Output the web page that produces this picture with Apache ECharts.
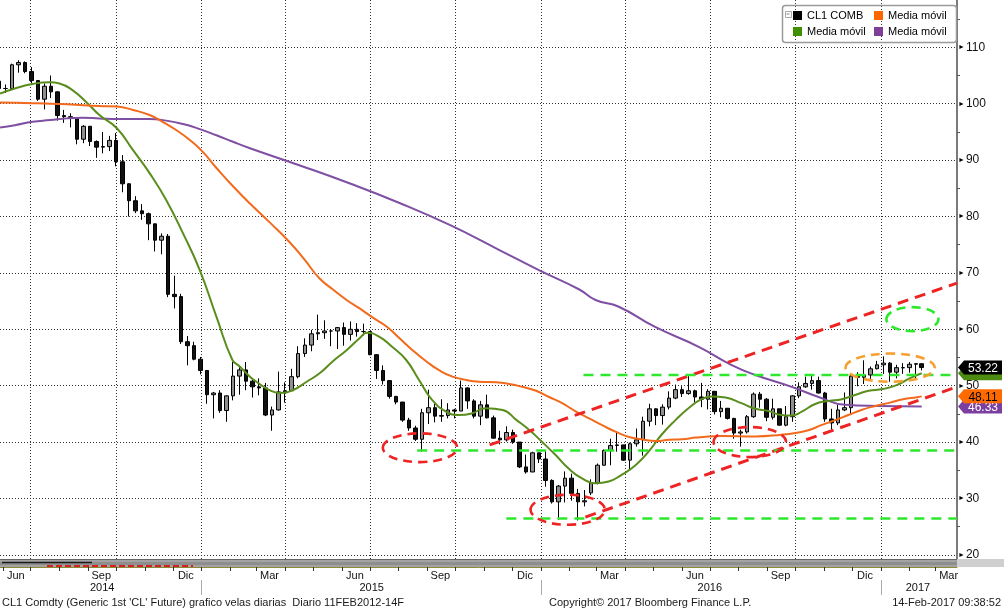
<!DOCTYPE html>
<html><head><meta charset="utf-8">
<script src="https://cdn.jsdelivr.net/npm/echarts@6/dist/echarts.min.js"></script>
<style>html,body{margin:0;padding:0;background:#fff}#c{width:1004px;height:610px}</style>
</head><body><div id="c"></div><script>
// ---------- DATA ----------
const weeks = [
'2014-05-28','2014-06-04','2014-06-11','2014-06-18','2014-06-25','2014-07-02','2014-07-09','2014-07-16','2014-07-23','2014-07-30','2014-08-06','2014-08-13','2014-08-20','2014-08-27','2014-09-03','2014-09-10','2014-09-17','2014-09-24','2014-10-01','2014-10-08','2014-10-15','2014-10-22','2014-10-29','2014-11-05','2014-11-12','2014-11-19','2014-11-26','2014-12-03','2014-12-10','2014-12-17','2014-12-24','2014-12-31',
'2015-01-07','2015-01-14','2015-01-21','2015-01-28','2015-02-04','2015-02-11','2015-02-18','2015-02-25','2015-03-04','2015-03-11','2015-03-18','2015-03-25','2015-04-01','2015-04-08','2015-04-15','2015-04-22','2015-04-29','2015-05-06','2015-05-13','2015-05-20','2015-05-27','2015-06-03','2015-06-10','2015-06-17','2015-06-24','2015-07-01','2015-07-08','2015-07-15','2015-07-22','2015-07-29','2015-08-05','2015-08-12','2015-08-19','2015-08-26','2015-09-02','2015-09-09','2015-09-16','2015-09-23','2015-09-30','2015-10-07','2015-10-14','2015-10-21','2015-10-28','2015-11-04','2015-11-11','2015-11-18','2015-11-25','2015-12-02','2015-12-09','2015-12-16','2015-12-23','2015-12-30',
'2016-01-06','2016-01-13','2016-01-20','2016-01-27','2016-02-03','2016-02-10','2016-02-17','2016-02-24','2016-03-02','2016-03-09','2016-03-16','2016-03-23','2016-03-30','2016-04-06','2016-04-13','2016-04-20','2016-04-27','2016-05-04','2016-05-11','2016-05-18','2016-05-25','2016-06-01','2016-06-08','2016-06-15','2016-06-22','2016-06-29','2016-07-06','2016-07-13','2016-07-20','2016-07-27','2016-08-03','2016-08-10','2016-08-17','2016-08-24','2016-08-31','2016-09-07','2016-09-14','2016-09-21','2016-09-28','2016-10-05','2016-10-12','2016-10-19','2016-10-26','2016-11-02','2016-11-09','2016-11-16','2016-11-23','2016-11-30','2016-12-07','2016-12-14','2016-12-21','2016-12-28',
'2017-01-04','2017-01-11','2017-01-18','2017-01-25','2017-02-01','2017-02-08','2017-02-14'];
const opens = [
104.0,102.7,102.7,106.9,107.3,105.7,104.1,100.8,103.1,102.1,97.9,97.7,97.4,93.7,96.0,93.3,92.3,92.4,93.5,89.7,85.8,82.8,81.0,80.5,78.7,75.8,76.5,66.2,65.8,57.8,57.1,54.7,
52.7,48.4,48.7,45.6,48.2,51.7,52.8,50.8,49.8,49.6,44.8,45.7,48.9,49.1,51.6,55.7,57.2,59.2,59.4,59.7,59.7,60.3,59.1,60.0,59.6,59.6,55.5,52.7,50.9,48.1,47.1,43.9,42.5,40.5,45.2,46.1,44.6,44.7,45.7,45.5,49.6,47.3,44.6,46.6,44.3,40.7,40.4,41.7,40.0,35.6,34.7,38.1,
37.0,33.2,29.4,32.2,33.6,30.9,29.4,31.0,32.8,35.9,38.5,39.4,39.5,36.8,39.7,40.4,43.7,45.9,44.7,46.2,47.8,49.3,48.6,49.1,48.0,47.6,49.0,45.4,46.0,44.2,41.6,41.8,44.5,48.5,47.6,44.4,45.9,43.0,44.5,48.2,49.8,50.4,50.9,48.7,44.1,43.4,45.7,46.1,51.7,51.5,51.9,53.0,
53.7,54.0,52.4,53.2,53.2,53.8,53.9];
const closes = [
102.7,102.7,106.9,107.3,105.7,104.1,100.8,103.1,102.1,97.9,97.7,97.4,93.7,96.0,93.3,92.3,92.4,93.5,89.7,85.8,82.8,81.0,80.5,78.7,75.8,76.5,66.2,65.8,57.8,57.1,54.7,52.7,
48.4,48.7,45.6,48.2,51.7,52.8,50.8,49.8,49.6,44.8,45.7,48.9,49.1,51.6,55.7,57.2,59.2,59.4,59.7,59.7,60.3,59.1,60.0,59.6,59.6,55.5,52.7,50.9,48.1,47.1,43.9,42.5,40.5,45.2,46.1,44.6,44.7,45.7,45.5,49.6,47.3,44.6,46.6,44.3,40.7,40.4,41.7,40.0,35.6,34.7,38.1,37.0,
33.2,29.4,32.2,33.6,30.9,29.4,29.6,32.8,35.9,38.5,39.4,39.5,36.8,39.7,40.4,43.7,45.9,44.7,46.2,47.8,49.3,48.6,49.1,48.0,47.6,49.0,45.4,46.0,44.2,41.6,41.8,44.5,48.5,47.6,44.4,45.9,43.0,44.5,48.2,49.8,50.4,50.9,48.7,44.1,43.4,45.7,46.1,51.7,51.5,51.9,53.0,53.7,
54.0,52.4,53.2,53.17,53.8,53.9,53.22];
const lows = [
102.5,101.9,102.6,105.5,105.4,103.6,100.5,99.0,101.0,97.0,96.6,95.8,92.8,93.0,92.5,90.4,91.2,91.6,88.9,84.3,80.0,80.6,79.4,75.8,73.8,73.3,65.7,63.7,57.4,53.6,54.5,52.0,
46.8,44.2,45.2,43.6,47.4,48.4,49.2,47.9,48.3,44.6,42.0,45.6,47.0,49.1,51.3,55.1,56.1,58.1,58.3,57.0,56.5,57.1,58.0,58.7,58.9,55.4,51.2,50.2,47.7,46.7,43.6,42.0,40.2,38.3,43.2,43.5,43.6,44.2,44.2,45.5,45.9,44.2,43.0,44.2,40.6,39.6,40.1,39.7,35.4,34.4,34.7,36.3,
32.1,29.1,26.2,29.3,29.6,26.1,28.6,30.6,32.5,35.8,35.9,38.3,36.7,35.2,39.2,37.6,42.8,43.0,43.1,45.8,47.6,48.0,48.4,47.0,46.2,45.8,44.9,44.4,44.0,40.6,39.2,41.5,44.3,46.1,43.7,44.0,42.9,42.8,43.6,47.8,49.6,49.3,48.6,43.6,42.2,43.0,45.5,44.8,49.9,50.3,51.2,52.9,
52.1,50.7,51.3,52.1,52.3,51.2,52.7];
const highs = [
104.4,103.4,107.1,107.7,107.5,106.5,104.2,103.6,105.0,102.2,98.9,98.3,97.6,96.2,96.0,93.5,95.0,94.3,94.8,90.9,85.9,83.6,82.2,80.7,78.3,77.0,76.9,69.5,66.3,58.8,57.8,55.1,
52.7,48.9,49.2,48.3,54.2,53.3,54.2,51.2,51.3,50.5,46.3,52.5,50.6,53.0,57.0,58.4,59.9,62.6,61.6,60.0,60.4,61.2,61.4,61.1,61.0,59.7,55.6,53.6,51.0,48.2,46.5,44.3,42.9,45.9,49.3,46.8,47.6,46.9,45.9,50.9,49.7,47.6,47.3,48.4,44.7,42.0,42.8,42.2,40.0,37.8,38.3,38.1,
38.4,33.4,32.4,34.8,34.4,31.7,31.5,33.4,36.2,38.7,40.6,41.9,39.5,39.9,42.4,44.5,46.8,46.0,46.7,49.0,50.2,49.9,51.7,49.3,50.5,49.4,49.0,47.3,46.0,44.3,42.2,44.8,48.8,48.9,47.8,47.7,45.9,46.4,48.3,50.6,51.6,51.9,51.6,48.9,45.9,46.6,48.8,51.9,52.4,54.5,53.4,54.4,
55.2,54.2,53.7,54.0,54.2,54.0,53.9];

// moving averages: [date, value]
const ma50 = [
['2014-05-29',101.8],['2014-06-14',102.7],['2014-07-03',103.5],['2014-07-22',103.8],['2014-08-01',103.6],['2014-08-15',102.4],['2014-08-31',100.1],['2014-09-13',98.0],['2014-10-02',95.6],['2014-10-19',91.8],['2014-11-06',87.7],['2014-11-24',82.9],['2014-12-12',77.0],['2014-12-30',70.5],
['2015-01-17',62.2],['2015-02-03',54.6],['2015-02-11',53.4],['2015-02-22',51.6],['2015-03-01',50.7],['2015-03-15',49.2],['2015-03-26',48.7],['2015-04-09',49.2],['2015-04-24',50.7],['2015-05-08',52.2],['2015-05-22',54.3],['2015-06-06',56.3],['2015-06-20',58.4],['2015-06-28',59.4],['2015-07-11',58.7],['2015-07-25',56.9],['2015-08-09',54.6],['2015-08-23',51.0],['2015-09-06',47.5],['2015-09-21',45.4],['2015-10-05',44.8],['2015-10-19',45.1],['2015-11-03',46.0],['2015-11-21',45.7],['2015-12-06',43.9],['2015-12-20',42.1],
['2016-01-02',40.1],['2016-01-17',37.7],['2016-01-31',35.3],['2016-02-14',33.6],['2016-02-29',32.7],['2016-03-14',33.0],['2016-03-28',34.2],['2016-04-12',35.9],['2016-04-26',38.3],['2016-05-10',41.3],['2016-05-25',43.9],['2016-06-08',46.0],['2016-06-22',47.6],['2016-07-03',48.1],['2016-07-18',47.9],['2016-08-04',46.9],['2016-08-19',45.9],['2016-09-02',45.5],['2016-09-16',44.8],['2016-09-27',44.7],['2016-10-08',45.4],['2016-10-23',46.8],['2016-11-06',47.3],['2016-11-20',47.6],['2016-12-05',48.4],['2016-12-19',49.1],
['2017-01-03',49.4],['2017-01-18',50.1],['2017-02-01',51.3],['2017-02-14',52.2]];
const ma100 = [
['2014-05-29',100.2],['2014-07-03',100.1],['2014-08-09',99.9],['2014-09-13',99.6],['2014-10-02',99.5],['2014-10-19',98.9],['2014-11-06',98.0],['2014-11-20',96.8],['2014-12-05',95.3],['2014-12-19',93.6],
['2015-01-02',91.5],['2015-01-17',88.6],['2015-02-03',85.5],['2015-02-22',82.3],['2015-03-15',79.0],['2015-04-06',75.4],['2015-04-22',72.3],['2015-05-08',69.0],['2015-05-22',67.1],['2015-06-06',65.2],['2015-06-20',63.7],['2015-07-04',62.1],['2015-07-19',60.5],['2015-08-02',58.4],['2015-08-16',56.3],['2015-08-31',54.3],['2015-09-14',52.7],['2015-09-28',51.6],['2015-10-13',51.0],['2015-10-27',50.7],['2015-11-14',50.6],['2015-11-28',50.3],['2015-12-12',49.8],['2015-12-27',49.1],
['2016-01-10',48.0],['2016-01-24',46.9],['2016-02-08',45.4],['2016-02-22',44.2],['2016-03-07',43.0],['2016-03-22',41.8],['2016-04-05',40.9],['2016-04-19',40.5],['2016-05-04',40.2],['2016-05-18',40.4],['2016-06-01',40.5],['2016-06-16',40.8],['2016-06-30',41.0],['2016-07-14',41.1],['2016-08-19',41.0],['2016-09-16',41.3],['2016-10-01',41.6],['2016-10-15',42.1],['2016-10-29',43.0],['2016-11-13',43.9],['2016-11-27',44.8],['2016-12-11',45.7],['2016-12-26',46.4],
['2017-01-11',47.0],['2017-01-25',47.6],['2017-02-09',47.95],['2017-02-14',48.11]];
const ma200 = [
['2014-05-29',95.8],['2014-06-14',96.2],['2014-07-03',96.8],['2014-07-22',97.1],['2014-08-09',97.4],['2014-08-26',97.5],['2014-09-13',97.4],['2014-10-02',97.3],['2014-11-06',97.3],['2014-11-24',97.0],['2014-12-12',96.4],['2014-12-30',95.5],
['2015-01-17',94.4],['2015-02-03',93.3],['2015-02-22',92.1],['2015-04-16',89.1],['2015-06-09',85.9],['2015-08-02',82.4],['2015-09-25',78.5],['2015-11-17',74.1],['2015-12-30',70.5],
['2016-02-11',67.1],['2016-02-29',65.2],['2016-03-25',64.0],['2016-05-02',60.5],['2016-06-19',56.9],['2016-07-24',53.7],['2016-08-19',51.9],['2016-09-27',49.8],['2016-10-26',48.0],['2016-11-24',46.6],['2016-12-29',46.4],['2017-02-14',46.33]];

const lastPrice = 53.22, lastMa50 = 52.2, lastMa100 = 48.11, lastMa200 = 46.33;

// drawn annotations (data coordinates)
const trendUpper = [['2015-11-07',39.5],['2017-03-24',68.2]];
const trendLower = [['2016-02-18',26.7],['2017-03-24',49.8]];
const levelLines = [[['2016-02-16',51.9],['2017-03-24',51.9]],[['2015-08-21',38.5],['2017-03-24',38.5]],[['2015-11-25',26.45],['2017-03-24',26.45]]];
// ellipse: [centre date, centre value, half-width in days, half-height in price]
const redEllipses = [['2015-08-24',39.0,40,2.55],['2016-01-30',28.0,40,2.66],['2016-08-13',40.0,39,2.66]];
const greenEllipses = [['2017-02-04',61.8,28,2.13]];
const orangeEllipses = [['2017-01-11',53.2,48,2.5]];

// axes
const xMin = '2014-05-29', xMax = '2017-03-24';
const yMin = 19.27, yMax = 118.39;
const yTicks = [20,30,40,50,60,70,80,90,100,110];
const yMinorTicks = [25,35,45,55,65,75,85,95,105,115];
const quarterStarts = ['2014-07-01','2014-10-01','2015-01-01','2015-04-01','2015-07-01','2015-10-01','2016-01-01','2016-04-01','2016-07-01','2016-10-01','2017-01-01'];
const monthStarts = ['2014-06-01','2014-07-01','2014-08-01','2014-09-01','2014-10-01','2014-11-01','2014-12-01','2015-01-01','2015-02-01','2015-03-01','2015-04-01','2015-05-01','2015-06-01','2015-07-01','2015-08-01','2015-09-01','2015-10-01','2015-11-01','2015-12-01','2016-01-01','2016-02-01','2016-03-01','2016-04-01','2016-05-01','2016-06-01','2016-07-01','2016-08-01','2016-09-01','2016-10-01','2016-11-01','2016-12-01','2017-01-01','2017-02-01','2017-03-01'];
const monthLabels = [['2014-06-15','Jun'],['2014-09-15','Sep'],['2014-12-15','Dic'],['2015-03-15','Mar'],['2015-06-15','Jun'],['2015-09-15','Sep'],['2015-12-15','Dic'],['2016-03-15','Mar'],['2016-06-15','Jun'],['2016-09-15','Sep'],['2016-12-15','Dic'],['2017-03-15','Mar']];
const yearStarts = ['2015-01-01','2016-01-01','2017-01-01'];
const yearLabels = [['2014-09-16','2014'],['2015-07-03','2015'],['2016-07-01','2016'],['2017-02-10','2017']];

// ---------- CHART ----------
const DAY = 86400000;
const t = s => Date.parse(s + 'T00:00:00Z');
const FONT = '"Liberation Sans", Arial, sans-serif';
const monthMap = new Map(monthLabels.map(([d, l]) => [t(d), l]));
const yearMap = new Map(yearLabels.map(([d, l]) => [t(d), l]));
const chart = echarts.init(document.getElementById('c'), null, {renderer: 'canvas'});

const candleData = weeks.map((d, i) => [t(d), opens[i], closes[i], lows[i], highs[i]]);
const pairs = arr => arr.map(([d, v]) => [t(d), v]);

const tagPath = 'path://M0,7 L6,0 L44,0 L44,14 L6,14 Z';
function tag(value, bg, fg, z, showText) {
  return {
    symbol: tagPath, symbolSize: [44, 14], symbolKeepAspect: false, symbolOffset: [23, 0], z: z,
    silent: true, animation: false,
    itemStyle: {color: bg},
    label: {show: showText, position: 'inside', formatter: value.toFixed(2), color: fg, fontSize: 12, fontFamily: FONT, offset: [3, 1]},
    data: [{coord: [t(xMax), value]}]
  };
}
function ellipseSeries(list, color) {
  return {
    type: 'custom', silent: true, clip: false, z: 8,
    data: list.map(([d, v, rx, ry]) => [t(d), v, rx, ry]),
    encode: {x: 0, y: 1},
    renderItem(params, api) {
      const c = api.coord([api.value(0), api.value(1)]);
      const rx = api.size([api.value(2) * DAY, 0])[0];
      const ry = api.size([0, api.value(3)])[1];
      return {type: 'ellipse', shape: {cx: c[0], cy: c[1], rx: rx, ry: ry},
        style: {fill: 'none', stroke: color, lineWidth: 2.6, lineDash: [9, 6]}};
    }
  };
}
function dashLine(points, color, width, dash) {
  return {type: 'line', silent: true, symbol: 'none', z: 7, data: pairs(points),
    lineStyle: {color: color, width: width, type: dash}};
}

const legendFmt = n => n === 'CL1 COMB' ? 'CL1 COMB' : 'Media móvil';
const legendBase = {orient: 'vertical', padding: 0, itemGap: 5, itemWidth: 9, itemHeight: 9, icon: 'rect',
  formatter: legendFmt, textStyle: {fontFamily: FONT, fontSize: 11, color: '#000'}, selectedMode: false};

const xBase = {type: 'value', min: t(xMin), max: t(xMax), scale: true};
const option = {
  animation: false,
  backgroundColor: '#fff',
  grid: {left: 0, right: 47, top: 0, height: 559, containLabel: false},
  legend: [
    Object.assign({left: 793, top: 10, data: [{name: 'CL1 COMB', itemStyle: {color: '#000', borderWidth: 0}}, 'MA50']}, legendBase),
    Object.assign({left: 874, top: 10, data: ['MA100', 'MA200']}, legendBase)
  ],
  xAxis: [
    Object.assign({axisLine: {show: false}, axisLabel: {show: false},
     axisTick: {show: false, customValues: quarterStarts.map(t)},
     splitLine: {show: true, lineStyle: {color: '#333', width: 1, type: [1, 2]}}}, xBase),
    Object.assign({position: 'bottom', offset: 8,
     axisLine: {show: true, lineStyle: {color: '#8c8a35', width: 1}},
     axisTick: {show: true, length: 4, customValues: monthStarts.map(t), lineStyle: {color: '#333'}},
     axisLabel: {show: true, customValues: monthLabels.map(m => t(m[0])), margin: 3, formatter: v => monthMap.get(v) || '',
       fontFamily: FONT, fontSize: 11, color: '#111'},
     splitLine: {show: false}}, xBase),
    Object.assign({position: 'bottom', offset: 21,
     axisLine: {show: false},
     axisTick: {show: true, length: 15, customValues: yearStarts.map(t), lineStyle: {color: '#aaa'}},
     axisLabel: {show: true, customValues: yearLabels.map(m => t(m[0])), margin: 2, formatter: v => yearMap.get(v) || '',
       fontFamily: FONT, fontSize: 11, color: '#111'},
     splitLine: {show: false}}, xBase)
  ],
  yAxis: [
    {type: 'value', position: 'right', min: yMin, max: yMax, scale: true,
     axisLine: {show: true, lineStyle: {color: '#7a7a7a', width: 2}},
     axisTick: {show: false, customValues: yTicks},
     axisLabel: {show: true, customValues: yTicks, margin: 1, formatter: v => '{a|►}' + v,
       rich: {a: {fontSize: 7, color: '#000', padding: [0, 1, 0, 0]}},
       fontFamily: FONT, fontSize: 12, color: '#111'},
     splitLine: {show: true, lineStyle: {color: '#333', width: 1, type: [1, 2]}}},
    {type: 'value', position: 'right', min: yMin, max: yMax, scale: true,
     axisLine: {show: false}, axisLabel: {show: false}, splitLine: {show: false},
     axisTick: {show: true, length: 3, customValues: yMinorTicks, lineStyle: {color: '#555'}}}
  ],
  graphic: [
    {type: 'rect', left: 0, top: 559, shape: {width: 957, height: 8}, style: {fill: '#a3a3a3'}, z: 1, silent: true},
    {type: 'rect', left: 0, top: 562, shape: {width: 957, height: 3}, style: {fill: '#8e8e8e'}, z: 1, silent: true},
    {type: 'rect', left: 957, top: 559, shape: {width: 47, height: 8}, style: {fill: '#cfcfcf'}, z: 1, silent: true},
    {type: 'line', shape: {x1: 0, y1: 559.5, x2: 957, y2: 559.5}, style: {stroke: '#666', lineWidth: 1}, z: 2, silent: true},
    {type: 'line', shape: {x1: 2, y1: 562.5, x2: 92, y2: 562.5}, style: {stroke: '#1a1a1a', lineWidth: 1.5}, z: 2, silent: true},
    {type: 'line', shape: {x1: 47, y1: 566, x2: 193, y2: 566}, style: {stroke: '#d42020', lineWidth: 2, lineDash: [6, 3]}, z: 2, silent: true},
    {type: 'rect', left: 780, top: 3, shape: {width: 174, height: 37, r: 3}, style: {fill: 'none', stroke: '#9a9a9a', lineWidth: 1.5}, z: 20, silent: true},
    {type: 'rect', left: 785, top: 11, shape: {width: 6, height: 6}, style: {fill: '#fff', stroke: '#aaa', lineWidth: 1}, z: 20, silent: true},
    {type: 'line', shape: {x1: 786.5, y1: 14, x2: 789.5, y2: 14}, style: {stroke: '#888', lineWidth: 1}, z: 21, silent: true},
    {type: 'text', left: 2, top: 597, style: {text: "CL1 Comdty (Generic 1st 'CL' Future) grafico velas diarias  Diario 11FEB2012-14F", font: '11px ' + FONT, fill: '#1a1a1a'}, silent: true},
    {type: 'text', left: 549, top: 597, style: {text: 'Copyright© 2017 Bloomberg Finance L.P.', font: '11px ' + FONT, fill: '#1a1a1a'}, silent: true},
    {type: 'text', right: 3, top: 597, style: {text: '14-Feb-2017 09:38:52', font: '11px ' + FONT, fill: '#1a1a1a'}, silent: true}
  ],
  series: [
    {name: 'MA200', type: 'line', smooth: true, symbol: 'none', z: 3, data: pairs(ma200),
     lineStyle: {color: '#7f4fa3', width: 2}, itemStyle: {color: '#7f3f98'},
     markPoint: tag(lastMa200, '#7b3fa0', '#fff', 5, true)},
    {name: 'MA50', type: 'line', smooth: true, symbol: 'none', z: 3, data: pairs(ma50),
     lineStyle: {color: '#5a8e1c', width: 2}, itemStyle: {color: '#3f8f00'},
     markPoint: tag(lastMa50, '#4c8c10', '#fff', 5, false)},
    {name: 'CL1 COMB', type: 'candlestick', z: 2, barWidth: 4, data: candleData,
     encode: {x: 0, y: [1, 2, 3, 4]},
     itemStyle: {color: '#8f8f8f', color0: '#111', borderColor: '#000', borderColor0: '#000', borderWidth: 1},
     markPoint: tag(lastPrice, '#000', '#fff', 6, true)},
    {name: 'MA100', type: 'line', smooth: true, symbol: 'none', z: 3, data: pairs(ma100),
     lineStyle: {color: '#f26a1b', width: 2}, itemStyle: {color: '#ff6600'},
     markPoint: tag(lastMa100, '#ff6a00', '#000', 6, true)},
    dashLine(trendUpper, '#ee2424', 3, [11, 7]),
    dashLine(trendLower, '#ee2424', 3, [11, 7]),
    ...levelLines.map(l => dashLine(l, '#2ee82e', 2.5, [10, 7])),
    ellipseSeries(redEllipses, '#ee2424'),
    ellipseSeries(greenEllipses, '#2ee82e'),
    ellipseSeries(orangeEllipses, '#f5a030')
  ]
};
chart.setOption(option);
</script></body></html>
